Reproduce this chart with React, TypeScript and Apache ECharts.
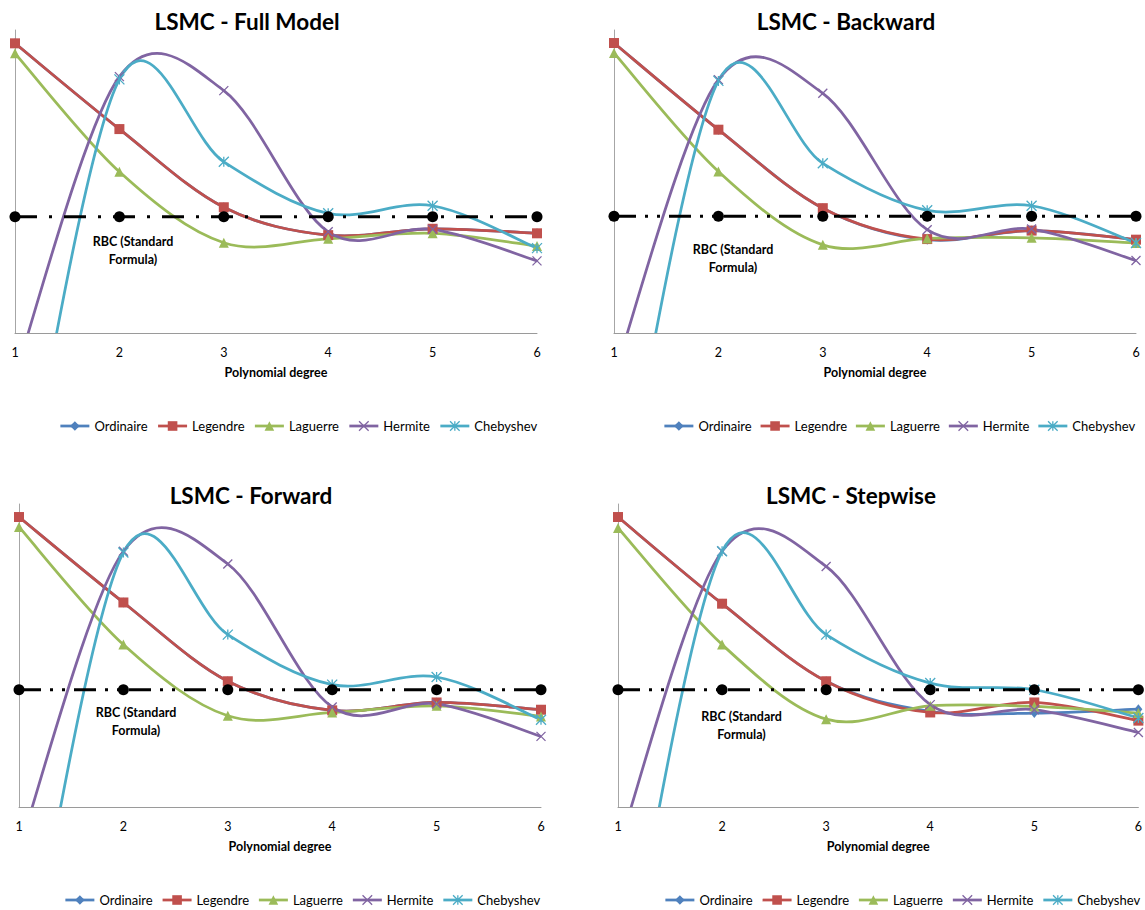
import React, { useEffect, useRef } from 'react';
import * as echarts from 'echarts';

// ---------- data ----------
const degrees = [1, 2, 3, 4, 5, 6];
const seriesNames = ['Ordinaire', 'Legendre', 'Laguerre', 'Hermite', 'Chebyshev'];
const panelTitles = ['LSMC - Full Model', 'LSMC - Backward', 'LSMC - Forward', 'LSMC - Stepwise'];
const xAxisName = 'Polynomial degree';
const rbcLabel = 'RBC (Standard\nFormula)';
const rbcLevels = [38.4, 38.5, 38.7, 38.7];

// Full Model
const fullOrdinaire = [95.6, 67.3, 41.5, 32.3, 34.4, 32.9];
const fullLegendre = [95.6, 67.3, 41.5, 32.3, 34.4, 32.9];
const fullLaguerre = [92.3, 53.2, 29.8, 31.1, 32.9, 28.7];
const fullHermite = [-14, 84.6, 80.0, 33.4, 34.2, 23.8];
const fullChebyshev = [-73, 83.7, 56.5, 39.5, 42.0, 28.0];

// Backward
const backOrdinaire = [95.7, 67.1, 41.2, 30.8, 33.8, 30.8];
const backLegendre = [95.7, 67.1, 41.2, 31.0, 33.8, 30.8];
const backLaguerre = [92.4, 53.3, 29.1, 31.2, 31.4, 29.7];
const backHermite = [-14, 83.6, 79.1, 34.1, 34.3, 23.9];
const backChebyshev = [-73, 83.2, 56.0, 40.5, 42.0, 29.7];

// Forward
const fwdOrdinaire = [95.7, 67.5, 41.5, 31.9, 34.5, 32.1];
const fwdLegendre = [95.7, 67.5, 41.5, 31.9, 34.5, 32.1];
const fwdLaguerre = [92.4, 53.6, 30.1, 31.2, 33.4, 29.9];
const fwdHermite = [-14, 84.4, 80.2, 33.0, 34.0, 23.3];
const fwdChebyshev = [-73, 84.0, 56.9, 40.4, 42.9, 28.8];

// Stepwise
const stepOrdinaire = [95.7, 67.1, 41.5, 31.6, 31.0, 32.3];
const stepLegendre = [95.7, 67.1, 41.5, 31.2, 34.5, 28.5];
const stepLaguerre = [92.1, 53.6, 29.0, 33.4, 33.2, 31.0];
const stepHermite = [-14, 84.4, 79.4, 33.8, 32.1, 24.6];
const stepChebyshev = [-73, 84.4, 56.9, 40.9, 38.7, 29.4];

const panelData = [
  [fullOrdinaire, fullLegendre, fullLaguerre, fullHermite, fullChebyshev],
  [backOrdinaire, backLegendre, backLaguerre, backHermite, backChebyshev],
  [fwdOrdinaire, fwdLegendre, fwdLaguerre, fwdHermite, fwdChebyshev],
  [stepOrdinaire, stepLegendre, stepLaguerre, stepHermite, stepChebyshev],
];

// ---------- styles / layout ----------
const FONT = 'Lato';
const colors = ['#4F81BD', '#C0504D', '#9BBB59', '#8064A2', '#4BACC6'];
const symbols = [
  'diamond',
  'rect',
  'triangle',
  'path://M0,0L10,10M10,0L0,10',
  'path://M0,0L10,10M10,0L0,10M5,0L5,10',
];
const symbolSizes: any[] = [[8, 10], 10, 10, 9, 10];
const rbcDash = [
  [22, 12, 3, 12],
  [22, 9, 3, 9, 3, 9],
  [22, 9, 3, 9, 3, 9],
  [22, 9, 3, 9, 3, 9],
];

const layouts = [
  { left: 15, top: 30, titleX: 247, titleY: 21, legendLeft: 59, legendTop: 419.5, itemGap: 9, labelX: 133, labelY: 250 },
  { left: 614, top: 30, titleX: 846, titleY: 21, legendLeft: 663, legendTop: 419.5, itemGap: 7.5, labelX: 733, labelY: 258.5 },
  { left: 19, top: 504, titleX: 251, titleY: 495, legendLeft: 64, legendTop: 893.5, itemGap: 8.5, labelX: 136, labelY: 721.5 },
  { left: 618, top: 504, titleX: 851, titleY: 495, legendLeft: 664, legendTop: 893.5, itemGap: 8.5, labelX: 741.5, labelY: 725.5 },
];

// Excel-like smoothed curve (Catmull-Rom as cubic Bezier) drawn through api.coord
function makeCurveRenderer(ys: number[], color: string) {
  return (params: any, api: any) => {
    const n = ys.length;
    const i = params.dataIndex;
    if (i >= n - 1) return null;
    const pt = (j: number) => {
      const k = Math.max(0, Math.min(n - 1, j));
      return api.coord([degrees[k], ys[k]]);
    };
    const p0 = pt(i - 1);
    const p1 = pt(i);
    const p2 = pt(i + 1);
    const p3 = pt(i + 2);
    return {
      type: 'bezierCurve',
      silent: true,
      shape: {
        x1: p1[0],
        y1: p1[1],
        x2: p2[0],
        y2: p2[1],
        cpx1: p1[0] + (p2[0] - p0[0]) / 6,
        cpy1: p1[1] + (p2[1] - p0[1]) / 6,
        cpx2: p2[0] - (p3[0] - p1[0]) / 6,
        cpy2: p2[1] - (p3[1] - p1[1]) / 6,
      },
      style: { stroke: color, lineWidth: 2.75, fill: 'none', lineCap: 'round' },
    };
  };
}

function buildOption() {
  const grid: any[] = [];
  const xAxis: any[] = [];
  const yAxis: any[] = [];
  const legend: any[] = [];
  const series: any[] = [];
  const graphic: any[] = [];

  layouts.forEach((l, k) => {
    grid.push({ left: l.left, top: l.top, width: 522, height: 303, containLabel: false });
    xAxis.push({
      type: 'value',
      gridIndex: k,
      min: 1,
      max: 6,
      interval: 1,
      name: xAxisName,
      nameLocation: 'middle',
      nameGap: 33,
      nameTextStyle: { fontFamily: FONT, fontWeight: 'bold', fontSize: 12.5, color: '#000' },
      axisLine: { show: true, onZero: false, lineStyle: { color: '#9a9a9a', width: 1 } },
      axisTick: { show: false },
      splitLine: { show: false },
      axisLabel: { fontFamily: FONT, fontSize: 12.5, color: '#000', margin: 13 },
    });
    yAxis.push({
      type: 'value',
      gridIndex: k,
      min: 0,
      max: 100,
      axisLine: { show: true, onZero: false, lineStyle: { color: '#a6a6a6', width: 1 } },
      axisTick: { show: false },
      axisLabel: { show: false },
      splitLine: { show: false },
    });
    legend.push({
      left: l.legendLeft,
      top: l.legendTop,
      width: 560,
      orient: 'horizontal',
      itemWidth: 29,
      itemHeight: 12,
      itemGap: l.itemGap,
      padding: 0,
      selectedMode: false,
      textStyle: { fontFamily: FONT, fontSize: 13, color: '#000' },
      lineStyle: { width: 2.75, opacity: 1 },
      itemStyle: { opacity: 1 },
      data: seriesNames.map((name, s) => ({
        name,
        itemStyle: s >= 3 ? { borderWidth: 1.3, borderColor: colors[s] } : { borderWidth: 0 },
      })),
    });

    const data = panelData[k];
    seriesNames.forEach((name, s) => {
      const ys = data[s];
      series.push({
        type: 'custom',
        name: name + ' curve ' + k,
        xAxisIndex: k,
        yAxisIndex: k,
        clip: true,
        silent: true,
        encode: { x: 0, y: 1 },
        data: degrees.map((d, j) => [d, ys[j]]),
        renderItem: makeCurveRenderer(ys, colors[s]),
        z: 2,
      });
      series.push({
        type: 'line',
        name,
        xAxisIndex: k,
        yAxisIndex: k,
        clip: true,
        silent: true,
        color: colors[s],
        data: degrees.map((d, j) => [d, ys[j]]),
        symbol: symbols[s],
        symbolSize: symbolSizes[s],
        showSymbol: true,
        showAllSymbol: true,
        lineStyle: { width: 0, color: colors[s] },
        itemStyle:
          s >= 3
            ? { color: colors[s], borderColor: colors[s], borderWidth: 1.3 }
            : { color: colors[s], borderWidth: 0 },
        z: 2,
      });
    });
    series.push({
      type: 'line',
      name: 'RBC ' + k,
      xAxisIndex: k,
      yAxisIndex: k,
      silent: true,
      data: degrees.map((d) => [d, rbcLevels[k]]),
      symbol: 'circle',
      symbolSize: 11,
      color: '#000',
      itemStyle: { color: '#000' },
      lineStyle: { color: '#000', width: 3, type: rbcDash[k], cap: 'butt' },
      z: 3,
    });

    graphic.push({
      type: 'text',
      x: l.titleX,
      y: l.titleY,
      silent: true,
      style: {
        text: panelTitles[k],
        fontFamily: FONT,
        fontWeight: 'bold',
        fontSize: 22.5,
        fill: '#000',
        align: 'center',
        verticalAlign: 'middle',
      },
    });
    graphic.push({
      type: 'text',
      x: l.labelX,
      y: l.labelY,
      silent: true,
      z: 10,
      style: {
        text: rbcLabel,
        fontFamily: FONT,
        fontWeight: 'bold',
        fontSize: 12.5,
        lineHeight: 18,
        fill: '#000',
        align: 'center',
        verticalAlign: 'middle',
      },
    });
  });

  return {
    animation: false,
    backgroundColor: '#ffffff',
    grid,
    xAxis,
    yAxis,
    legend,
    series,
    graphic,
  };
}

export default function App() {
  const ref = useRef<HTMLDivElement>(null);
  useEffect(() => {
    if (!ref.current) return;
    const chart = echarts.init(ref.current, null, { renderer: 'svg' });
    chart.setOption(buildOption() as any);
    return () => chart.dispose();
  }, []);
  return (
    <div
      ref={ref}
      style={{ position: 'absolute', left: 0, top: 0, width: 1145, height: 910, background: '#fff' }}
    />
  );
}
